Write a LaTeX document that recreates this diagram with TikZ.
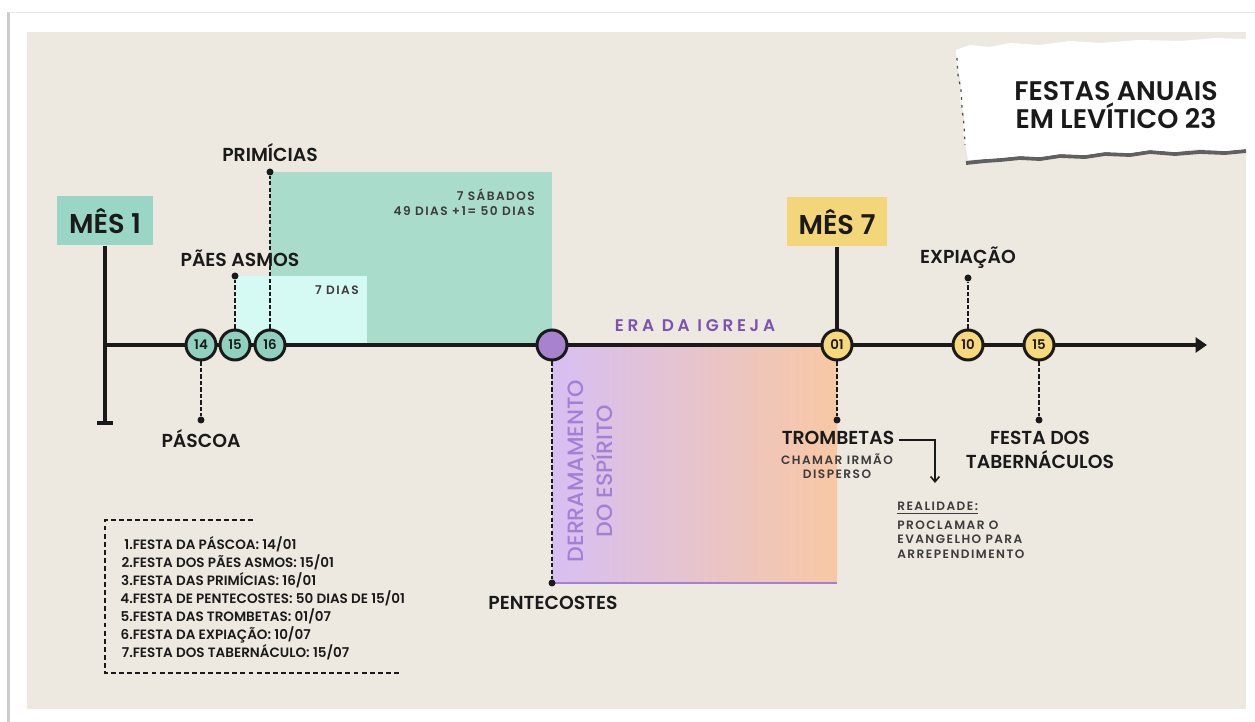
\documentclass[tikz,border=0pt]{standalone}
\usepackage{fontspec}
\setmainfont{Poppins}
\newfontfamily\psemi{Poppins SemiBold}
\newfontfamily\pbold{Poppins SemiBold}
\newfontfamily\pmed{Poppins Medium}
\newfontfamily\psemisp[LetterSpace=12]{Poppins SemiBold}
\newfontfamily\pmedwide[LetterSpace=22]{Poppins SemiBold}
\usetikzlibrary{arrows.meta}
\definecolor{bg}{HTML}{EEE9E0}
\definecolor{tealbox}{HTML}{9AD6C5}
\definecolor{tealbig}{HTML}{A9DCCB}
\definecolor{aqua}{HTML}{D5FAF3}
\definecolor{tealc}{HTML}{8FD1BE}
\definecolor{purc}{HTML}{A982CF}
\definecolor{purtxt}{HTML}{7B53B3}
\definecolor{purlt}{HTML}{A47FD6}
\definecolor{lav}{HTML}{D7BFF3}
\definecolor{peach}{HTML}{F8C8A4}
\definecolor{ylw}{HTML}{F4D67A}
\definecolor{ylwc}{HTML}{F6D97C}
\definecolor{ink}{HTML}{1A1A1A}
\tikzset{
  lbl/.style={font=\psemi\fontsize{10.7}{13.6}\selectfont, text=ink, inner sep=0pt, align=center},
  small/.style={font=\psemisp\fontsize{6.9}{8.3}\selectfont, text=ink!85, inner sep=0pt},
  monthbox/.style={font=\pbold\fontsize{15.5}{18}\selectfont, text=ink, minimum width=1.92cm, minimum height=0.98cm, inner sep=0pt},
  day/.style={circle, draw=ink, line width=1.7pt, minimum size=0.6cm, inner sep=0pt, font=\psemi\fontsize{7.6}{8}\selectfont, text=ink},
  dot/.style={circle, fill=ink, inner sep=0pt, minimum size=0.14cm},
  dsh/.style={draw=ink, line width=0.8pt, dash pattern=on 2.3pt off 1.4pt},
  tline/.style={draw=ink, line width=2pt},
}
\begin{document}
\begin{tikzpicture}[x=0.02cm,y=-0.02cm]
\useasboundingbox (0,0) rectangle (1255,722);
% card and paper
\fill[white] (0,0) rectangle (1255,722);
\fill[gray!40] (7,12) rectangle (9.5,722);
\draw[gray!20, line width=0.5pt] (9,12) -- (1255,12);
\fill[bg] (27,32) rectangle (1246,709);

% torn paper title
\draw[gray!75!black, line width=2.2pt] (966,163) -- (985,161) -- (1000,160) -- (1020,158) -- (1040,159) -- (1060,156) -- (1085,157) -- (1105,154) -- (1130,155) -- (1150,152) -- (1175,154) -- (1200,152) -- (1225,153) -- (1246,151);
\fill[white] (956,50) -- (970,45) -- (990,47) -- (1010,43) -- (1040,45) -- (1070,41) -- (1100,43) -- (1140,40) -- (1180,41) -- (1215,38) -- (1246,39)
  -- (1246,149) -- (1225,151) -- (1200,149) -- (1175,152) -- (1150,150) -- (1130,153) -- (1105,152) -- (1085,155) -- (1060,154) -- (1040,157) -- (1020,156) -- (1000,158) -- (985,159) -- (968,160)
  -- (966,148) -- (963,132) -- (964,115) -- (960,100) -- (961,82) -- (957,66) -- cycle;
\draw[gray!60!black, line width=0.7pt, dash pattern=on 1.5pt off 3pt] (957,58) -- (958,75) -- (961,90) -- (962,108) -- (964,125) -- (965,145);
\node[font=\pbold\fontsize{15.3}{16.4}\selectfont, text=ink, align=center, inner sep=0pt] (title) at (1116,105) {FESTAS ANUAIS\\EM LEVÍTICO 23};

% coloured areas
\fill[tealbig] (270,172) rectangle (552,345);
\fill[aqua] (235,276) rectangle (367,345);
\shade[left color=lav, right color=peach] (552,345) rectangle (837,583);
\draw[purlt, line width=0.6pt] (552,583) -- (837,583);

\node[small, anchor=east, align=right] (sab) at (535,202) {7 SÁBADOS\\[0.5pt]49 DIAS +1= 50 DIAS};
\node[small, anchor=east] (sete) at (359,290) {7 DIAS};

% month boxes
\node[monthbox, fill=tealbox] (m1) at (105,221) {MÊS 1};
\node[monthbox, fill=ylw, minimum width=2cm] (m7) at (837,222) {MÊS 7};

% timeline
\coordinate (tl0) at (105,345);
\coordinate (tl1) at (1207,345);
\coordinate (b1) at (105,423);
\coordinate (b1l) at (97,423);
\coordinate (b1r) at (113,423);
\draw[tline] (m1.south) -- (b1);
\draw[tline] (b1l) -- (b1r);
\draw[tline, -{Triangle[length=6.5pt,width=8.5pt]}] (tl0) -- (tl1);

% day circles
\node[day, fill=tealc] (c14) at (201,345) {14};
\node[day, fill=tealc] (c15) at (235,345) {15};
\node[day, fill=tealc] (c16) at (270,345) {16};
\node[day, fill=purc] (cp) at (552,345) {};
\node[day, fill=ylwc] (c01) at (837,345) {01};
\node[day, fill=ylwc] (c10) at (968,345) {10};
\node[day, fill=ylwc] (c15b) at (1039,345) {15};
\draw[tline] (m7.south) -- (c01.north);

% dots and dashed connectors
\node[dot] (dpas) at (201,420) {};
\node[dot] (dpaes) at (235,276) {};
\node[dot] (dprim) at (270,172) {};
\node[dot] (dpen) at (552,583) {};
\node[dot] (dtrom) at (837,420) {};
\node[dot] (dexp) at (968,278) {};
\node[dot] (dtab) at (1039,420) {};
\draw[dsh] (c14.south) -- (dpas);
\draw[dsh] (c15.north) -- (dpaes);
\draw[dsh] (c16.north) -- (dprim);
\draw[dsh] (cp.south) -- (dpen);
\draw[dsh] (c01.south) -- (dtrom);
\draw[dsh] (c10.north) -- (dexp);
\draw[dsh] (c15b.south) -- (dtab);

% labels
\node[lbl] (lpas) at (201,439) {PÁSCOA};
\node[lbl] (lpaes) at (240,258) {PÃES ASMOS};
\node[lbl] (lprim) at (270,153) {PRIMÍCIAS};
\node[lbl] (lpen) at (553,603) {PENTECOSTES};
\node[lbl] (ltrom) at (838,438) {TROMBETAS};
\node[lbl] (lexp) at (968,258) {EXPIAÇÃO};
\node[lbl] (ltab) at (1040,450) {FESTA DOS\\TABERNÁCULOS};
\node[small, align=center] (chamar) at (837,466) {CHAMAR IRMÃO\\DISPERSO};

\node[font=\pmedwide\fontsize{9.6}{11}\selectfont, text=purtxt, inner sep=0pt] (era) at (695,326) {ERA DA IGREJA};
\node[font=\pmed\fontsize{12.6}{16.4}\selectfont, text=purlt, rotate=90, align=center, inner sep=0pt] (derr) at (590,471) {DERRAMAMENTO\\DO ESPÍRITO};

% realidade
\coordinate (rarr) at (935,483);
\draw[draw=ink, line width=0.9pt, -{Straight Barb[length=3pt,width=5pt]}] ([xshift=0.08cm,yshift=-0.04cm]ltrom.east) -| (rarr);
\node[small, anchor=west] (real) at (897,508) {\underline{REALIDADE:}};
\node[small, anchor=north west, align=left, font=\psemisp\fontsize{6.9}{8}\selectfont] (proc) at (897,521) {PROCLAMAR O\\EVANGELHO PARA\\ARREPENDIMENTO};

% list box
\coordinate (lb0) at (253,520);
\coordinate (lb1) at (105,520);
\coordinate (lb2) at (105,673);
\coordinate (lb3) at (401,673);
\draw[draw=ink, line width=0.9pt, dash pattern=on 2.8pt off 1.8pt] (lb0) -- (lb1) -- (lb2) -- (lb3);
\node[anchor=west, inner sep=0pt, font=\psemi\fontsize{7.7}{9.75}\selectfont, text=ink] (list) at (120,600) {%
\begin{tabular}{@{}r@{}l@{}}
1.&FESTA DA PÁSCOA: 14/01\\
2.&FESTA DOS PÃES ASMOS: 15/01\\
3.&FESTA DAS PRIMÍCIAS: 16/01\\
4.&FESTA DE PENTECOSTES: 50 DIAS DE 15/01\\
5.&FESTA DAS TROMBETAS: 01/07\\
6.&FESTA DA EXPIAÇÃO: 10/07\\
7.&FESTA DOS TABERNÁCULO: 15/07
\end{tabular}};
\end{tikzpicture}
\end{document}
